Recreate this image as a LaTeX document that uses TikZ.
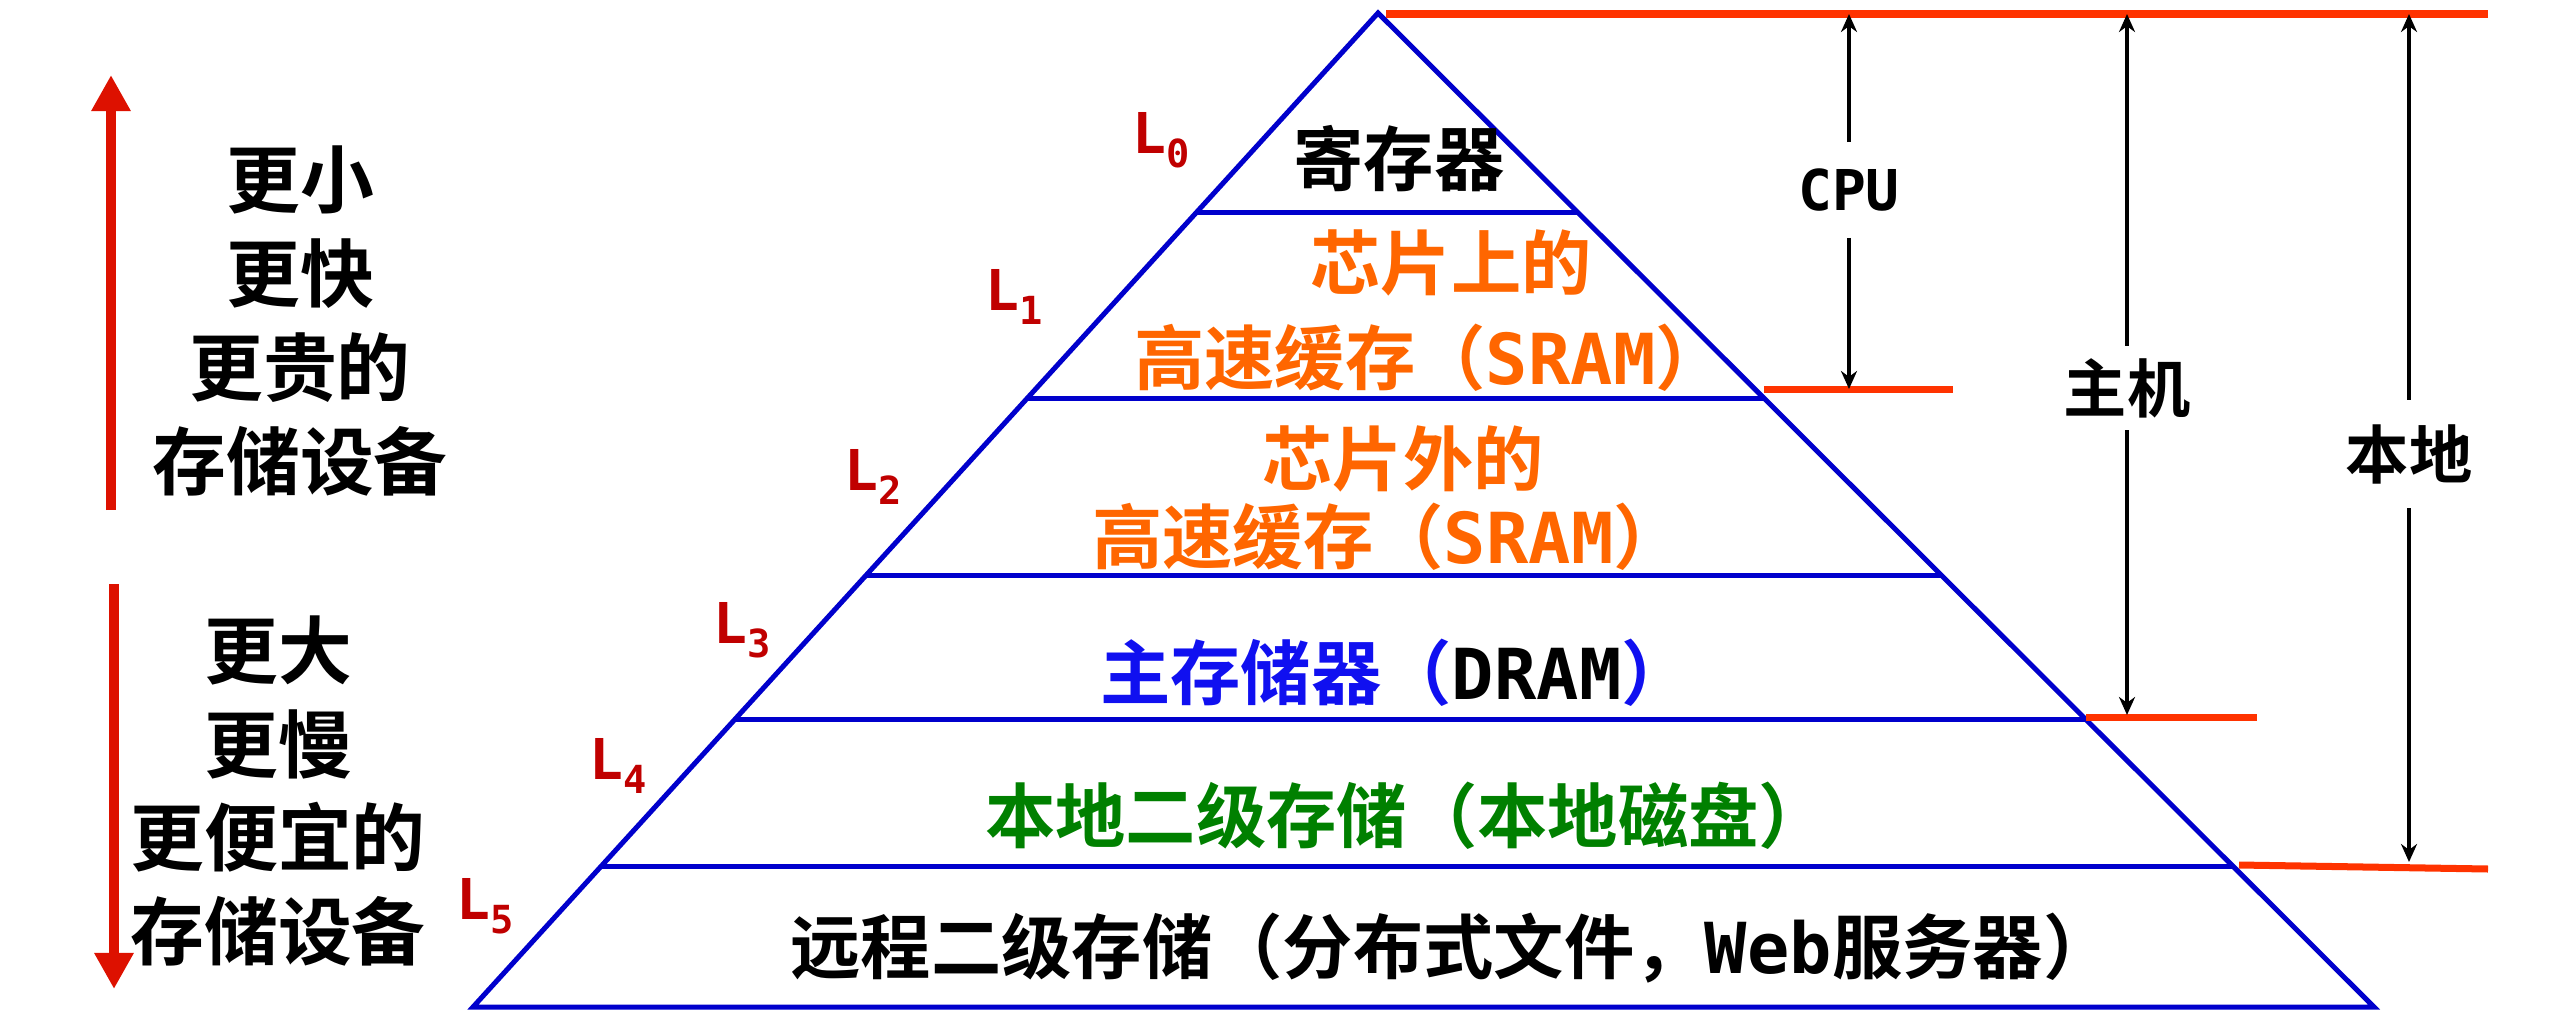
\documentclass[tikz,border=0pt]{standalone}
\usepackage{fontspec}
\usepackage{xcolor}
\usetikzlibrary{arrows.meta,calc,positioning}
\setmainfont{Noto Sans CJK SC}[BoldFont={* Bold}]
\newfontfamily\latfont{DejaVu Sans Mono}
\definecolor{pyrblue}{RGB}{0,0,204}
\definecolor{lvlred}{RGB}{192,0,0}
\definecolor{cacheorange}{RGB}{255,102,0}
\definecolor{markred}{RGB}{255,51,0}
\definecolor{trendred}{RGB}{221,17,0}
\definecolor{dramblue}{RGB}{16,16,240}
\definecolor{diskgreen}{RGB}{0,128,0}
\newcommand{\lvl}[1]{{\latfont\bfseries\fontsize{16}{18}\selectfont L\raisebox{-4pt}{\fontsize{11}{11}\selectfont #1}}}
\newcommand{\lat}[1]{{\latfont\bfseries #1}}

\begin{document}
\begin{tikzpicture}[
    x=0.01cm, y=-0.01cm,
    tier/.style={font=\fontsize{20}{24}\selectfont\bfseries, inner sep=0pt},
    side/.style={font=\fontsize{21}{26.7}\selectfont\bfseries, align=center, inner sep=0pt},
    level/.style={text=lvlred, inner sep=0pt},
    dimlabel/.style={font=\fontsize{18}{20}\selectfont\bfseries, inner xsep=0pt},
    dimarrow/.style={-{Stealth[length=0.18cm,width=0.16cm]}, line width=0.035cm},
    trend/.style={-{Triangle[length=0.36cm,width=0.37cm]}, line width=0.1cm, trendred},
    layer/.style={pyrblue, line width=0.05cm},
    redmark/.style={markred, line width=0.07cm}
]
\useasboundingbox (0,0) rectangle (2560,1027);

% Pyramid
\coordinate (apex) at (1378,13);
\coordinate (bl) at (473,1007);
\coordinate (br) at (2374,1007);
\draw[layer, line join=miter] (apex) -- (bl) -- (br) -- cycle;

% Layer borders
\foreach \t in {0.201,0.388,0.566,0.711,0.859}
  \draw[layer] ($(apex)!\t!(bl)$) -- ($(apex)!\t!(br)$);

% Levels
\node[level] (l0) at (1161,140) {\lvl{0}};
\node[level] (l1) at (1014,297) {\lvl{1}};
\node[level] (l2) at (873,477) {\lvl{2}};
\node[level] (l3) at (742,630) {\lvl{3}};
\node[level] (l4) at (618,766) {\lvl{4}};
\node[level] (l5) at (485,906) {\lvl{5}};

% Layer texts
\node[tier] (reg) at (1399,159) {寄存器};
\node[tier, text=cacheorange] (onchip) at (1451,263) {芯片上的};
\node[tier, text=cacheorange] (onsram) at (1430,358) {高速缓存（\lat{SRAM}）};
\node[tier, text=cacheorange] (offchip) at (1403,459) {芯片外的};
\node[tier, text=cacheorange] (offsram) at (1388,537) {高速缓存（\lat{SRAM}）};
\node[tier, text=dramblue] (dram) at (1396,673) {主存储器（{\color{black}\lat{DRAM}}）};
\node[tier, text=diskgreen] (disk) at (1407,816) {本地二级存储（本地磁盘）};
\node[tier] (remote) at (1452,948) {远程二级存储（分布式文件，\lat{Web}服务器）};

% Side texts
\node[side] (upper) at (300,321) {更小\\更快\\更贵的\\存储设备};
\node[side] (lower) at (278,791) {更大\\更慢\\更便宜的\\存储设备};
\coordinate (uptail) at (111,510);
\coordinate (uphead) at (111,75);
\coordinate (downtail) at (114,584);
\coordinate (downhead) at (114,989);
\draw[trend] (uptail) -- (uphead);
\draw[trend] (downtail) -- (downhead);

% Red marks
\coordinate (topleft) at (1386,14);
\coordinate (topright) at (2488,14);
\draw[redmark] (topleft) -- (topright);
\draw[redmark] (1764,389) -- (1953,389);
\draw[redmark] (2086,717) -- (2257,717);
\draw[redmark] (2239,865) -- (2488,869);

% Ranges
\node[dimlabel, font=\latfont\bfseries\fontsize{16}{18}\selectfont, inner ysep=0.26cm] (cpu) at (1849,190) {CPU};
\node[dimlabel, inner ysep=0.12cm] (host) at (2127,388) {主机};
\node[dimlabel, inner ysep=0.24cm] (local) at (2409,454) {本地};
\coordinate (cputop) at (1849,14);
\coordinate (cpubot) at (1849,389);
\coordinate (hosttop) at (2127,14);
\coordinate (hostbot) at (2127,715);
\coordinate (localtop) at (2409,14);
\coordinate (localbot) at (2409,862);
\draw[dimarrow] (cpu) -- (cputop);
\draw[dimarrow] (cpu) -- (cpubot);
\draw[dimarrow] (host) -- (hosttop);
\draw[dimarrow] (host) -- (hostbot);
\draw[dimarrow] (local) -- (localtop);
\draw[dimarrow] (local) -- (localbot);

\end{tikzpicture}
\end{document}
